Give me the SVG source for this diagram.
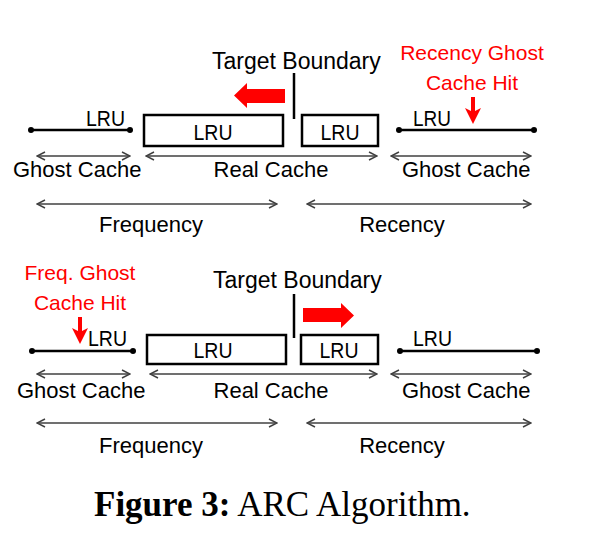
<svg xmlns="http://www.w3.org/2000/svg" width="607" height="553" viewBox="0 0 607 553">
<style>
text{font-family:"Liberation Sans",Arial,sans-serif;font-size:22px;fill:#000}
.tb{font-size:23px}
.red{fill:#ff0000;font-size:21px}
.mid{text-anchor:middle}
.ghost{stroke:#000;stroke-width:2.5;fill:none}
.dot{fill:#000}
.box{stroke:#000;stroke-width:2.5;fill:#fff}
.dbl{stroke:#404040;stroke-width:1.5;fill:none;marker-start:url(#chev);marker-end:url(#chev)}
.bound{stroke:#000;stroke-width:2.5}
.rarrow{fill:#ff0000}
.rshaft{stroke:#ff0000;stroke-width:4}
.cap{font-family:"Liberation Serif","Times New Roman",serif;font-size:35px}
</style>
<defs>
<marker id="chev" viewBox="0 0 10 10" refX="9" refY="5" markerWidth="10" markerHeight="10" markerUnits="userSpaceOnUse" orient="auto-start-reverse">
<path d="M1,1 L9,5 L1,9" stroke="#404040" stroke-width="1.5" fill="none"/>
</marker>
</defs>

<!-- Top panel -->
<g id="top-freq-ghost">
<line class="ghost" x1="31" y1="130" x2="130" y2="130"/>
<circle class="dot" cx="31" cy="130" r="3"/><circle class="dot" cx="130" cy="130" r="3"/>
<text x="86" y="126" textLength="39" lengthAdjust="spacingAndGlyphs">LRU</text>
<text x="13" y="177">Ghost Cache</text>
</g>
<g id="top-real-freq">
<rect class="box" x="144" y="115" width="139" height="31"/>
<text class="mid" x="213" y="140" textLength="39" lengthAdjust="spacingAndGlyphs">LRU</text>
</g>
<g id="top-real-rec">
<rect class="box" x="302" y="115" width="76" height="31"/>
<text class="mid" x="340" y="140" textLength="39" lengthAdjust="spacingAndGlyphs">LRU</text>
</g>
<g id="top-rec-ghost">
<line class="ghost" x1="399" y1="130" x2="534" y2="130"/>
<circle class="dot" cx="399" cy="130" r="3"/><circle class="dot" cx="534" cy="130" r="3"/>
<text x="413" y="126" textLength="38" lengthAdjust="spacingAndGlyphs">LRU</text>
<text x="402" y="177">Ghost Cache</text>
</g>
<g id="top-boundary">
<text class="tb" x="212" y="69">Target Boundary</text>
<line class="bound" x1="294" y1="73" x2="294" y2="119"/>
<polygon class="rarrow" points="234,95.5 247,83 247,89 285,89 285,103 247,103 247,108"/>
</g>
<g id="top-hit">
<text class="red mid" x="472" y="60">Recency Ghost</text>
<text class="red mid" x="472" y="90">Cache Hit</text>
<line class="rshaft" x1="473" y1="97" x2="473" y2="112"/>
<polygon class="rarrow" points="465,108 473,124 481,108 473,112"/>
</g>
<text x="271" y="177" class="mid">Real Cache</text>
<text x="151" y="232" class="mid">Frequency</text>
<text x="402" y="232" class="mid">Recency</text>

<!-- Bottom panel -->
<g id="bot-freq-ghost">
<line class="ghost" x1="32" y1="351" x2="133" y2="351"/>
<circle class="dot" cx="32" cy="351" r="3"/><circle class="dot" cx="133" cy="351" r="3"/>
<text x="88" y="346" textLength="39" lengthAdjust="spacingAndGlyphs">LRU</text>
<text x="17" y="398">Ghost Cache</text>
</g>
<g id="bot-real-freq">
<rect class="box" x="147" y="335" width="139" height="29"/>
<text class="mid" x="213" y="358" textLength="39" lengthAdjust="spacingAndGlyphs">LRU</text>
</g>
<g id="bot-real-rec">
<rect class="box" x="301" y="335" width="77" height="29"/>
<text class="mid" x="339" y="358" textLength="39" lengthAdjust="spacingAndGlyphs">LRU</text>
</g>
<g id="bot-rec-ghost">
<line class="ghost" x1="400" y1="351" x2="537" y2="351"/>
<circle class="dot" cx="400" cy="351" r="3"/><circle class="dot" cx="537" cy="351" r="3"/>
<text x="413" y="346" textLength="39" lengthAdjust="spacingAndGlyphs">LRU</text>
<text x="402" y="398">Ghost Cache</text>
</g>
<g id="bot-boundary">
<text class="tb" x="213" y="288">Target Boundary</text>
<line class="bound" x1="294" y1="294" x2="294" y2="338"/>
<polygon class="rarrow" points="354,315.5 341,303 341,308 303,308 303,322 341,322 341,328"/>
</g>
<g id="bot-hit">
<text class="red mid" x="80" y="280">Freq. Ghost</text>
<text class="red mid" x="80" y="310">Cache Hit</text>
<line class="rshaft" x1="80" y1="317" x2="80" y2="332"/>
<polygon class="rarrow" points="72,328 80,344 88,328 80,332"/>
</g>
<text x="271" y="398" class="mid">Real Cache</text>
<text x="151" y="453" class="mid">Frequency</text>
<text x="402" y="453" class="mid">Recency</text>

<g id="connectors">
<line class="dbl" x1="37" y1="156" x2="130" y2="156"/>
<line class="dbl" x1="146" y1="156" x2="377" y2="156"/>
<line class="dbl" x1="391" y1="156" x2="531" y2="156"/>
<line class="dbl" x1="37" y1="204" x2="277" y2="204"/>
<line class="dbl" x1="307" y1="204" x2="531" y2="204"/>
<line class="dbl" x1="37" y1="374" x2="130" y2="374"/>
<line class="dbl" x1="150" y1="374" x2="377" y2="374"/>
<line class="dbl" x1="391" y1="374" x2="531" y2="374"/>
<line class="dbl" x1="37" y1="423" x2="277" y2="423"/>
<line class="dbl" x1="307" y1="423" x2="531" y2="423"/>
</g>

<text class="cap" x="94" y="516"><tspan font-weight="bold">Figure 3:</tspan> ARC Algorithm.</text>
</svg>
